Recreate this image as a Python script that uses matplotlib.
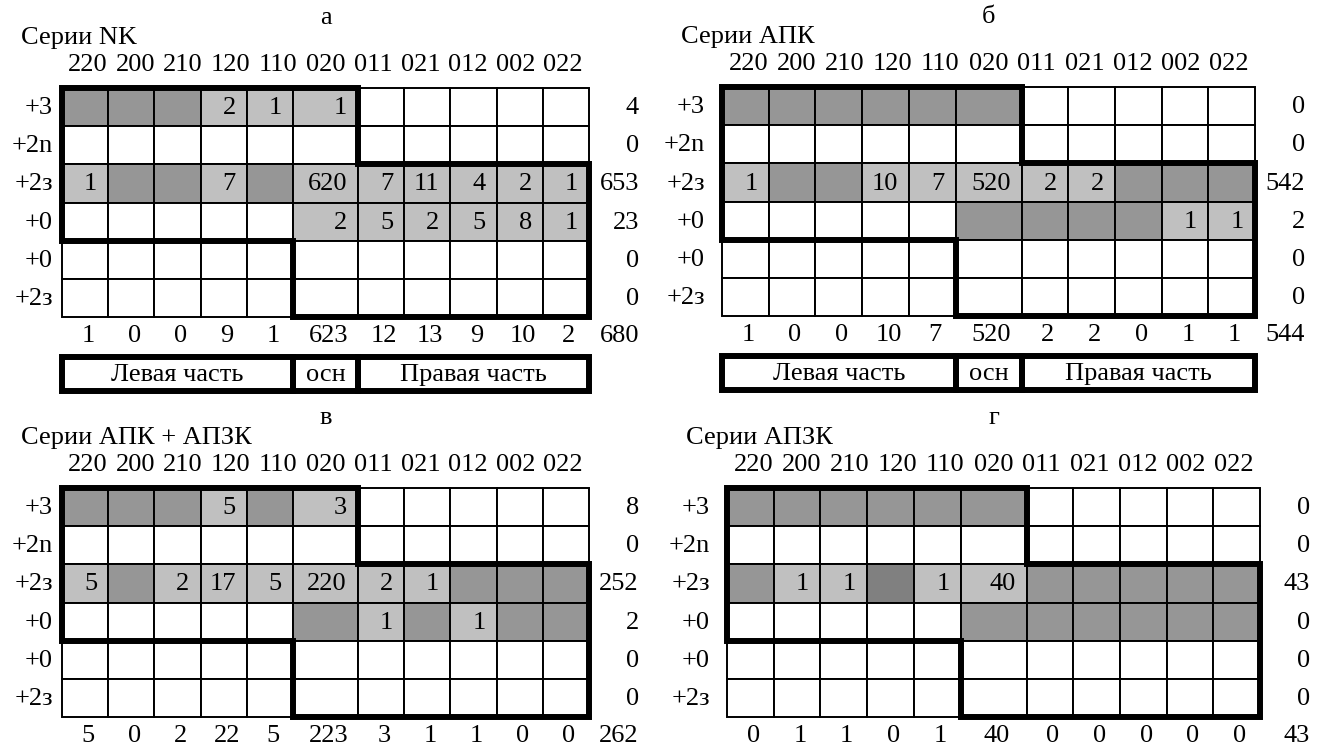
import matplotlib.pyplot as plt
from matplotlib.patches import Rectangle, Polygon

plt.rcParams['font.family'] = ['Liberation Serif', 'DejaVu Serif']

_ = None

columns = ['220', '200', '210', '120', '110', '020', '011', '021', '012', '002', '022']
row_labels = ['+3', '+2n', '+2з', '+0', '+0', '+2з']

# shade codes: 0 white, 1 light grey, 2 grey, 3 dark grey
nk_shades = ['22211100000', '00000000000', '12212111111',
             '00000111111', '00000000000', '00000000000']
nk_values = [[_, _, _, 2, 1, 1, _, _, _, _, _],
             [_] * 11,
             [1, _, _, 7, _, 620, 7, 11, 4, 2, 1],
             [_, _, _, _, _, 2, 5, 2, 5, 8, 1],
             [_] * 11,
             [_] * 11]
nk_row_sums = [4, 0, 653, 23, 0, 0]
nk_col_sums = [1, 0, 0, 9, 1, 623, 12, 13, 9, 10, 2]
nk_total = 680

apk_shades = ['22222200000', '00000000000', '12211111222',
              '00000222211', '00000000000', '00000000000']
apk_values = [[_] * 11,
              [_] * 11,
              [1, _, _, 10, 7, 520, 2, 2, _, _, _],
              [_, _, _, _, _, _, _, _, _, 1, 1],
              [_] * 11,
              [_] * 11]
apk_row_sums = [0, 0, 542, 2, 0, 0]
apk_col_sums = [1, 0, 0, 10, 7, 520, 2, 2, 0, 1, 1]
apk_total = 544

both_shades = ['22212100000', '00000000000', '12111111222',
               '00000212122', '00000000000', '00000000000']
both_values = [[_, _, _, 5, _, 3, _, _, _, _, _],
               [_] * 11,
               [5, _, 2, 17, 5, 220, 2, 1, _, _, _],
               [_, _, _, _, _, _, 1, _, 1, _, _],
               [_] * 11,
               [_] * 11]
both_row_sums = [8, 0, 252, 2, 0, 0]
both_col_sums = [5, 0, 2, 22, 5, 223, 3, 1, 1, 0, 0]
both_total = 262

apzk_shades = ['22222200000', '00000000000', '21131122222',
               '00000222222', '00000000000', '00000000000']
apzk_values = [[_] * 11,
               [_] * 11,
               [_, 1, 1, _, 1, 40, _, _, _, _, _],
               [_] * 11,
               [_] * 11,
               [_] * 11]
apzk_row_sums = [0, 0, 43, 0, 0, 0]
apzk_col_sums = [0, 1, 1, 0, 1, 40, 0, 0, 0, 0, 0]
apzk_total = 43

shade_colors = {'0': 'white', '1': '#c0c0c0', '2': '#969696', '3': '#808080'}
FS = 19
ROW_H = 38.2
THIN = 1.4
THICK = 4.3


def draw_panel(ax, left, top, std_w, wide_w, letter, title, shades, values,
               row_sums, col_sums, total, label_gap, box=False):
    edges = [left]
    for i in range(len(columns)):
        edges.append(edges[-1] + (wide_w if i == 5 else std_w))
    ys = [top + r * ROW_H for r in range(len(row_labels) + 1)]
    right, bottom = edges[-1], ys[-1]
    sums_x = right + 50

    # cells
    for r in range(len(row_labels)):
        for c in range(len(columns)):
            ax.add_patch(Rectangle((edges[c], ys[r]), edges[c + 1] - edges[c], ROW_H,
                                   facecolor=shade_colors[shades[r][c]],
                                   edgecolor='black', lw=THIN))
            v = values[r][c]
            if v is not None:
                ax.text(edges[c + 1] - 11, ys[r] + ROW_H / 2 + 1, str(v), fontsize=FS,
                        ha='right', va='center')
        ax.text(left - label_gap, ys[r] + ROW_H / 2 + 1, row_labels[r], fontsize=FS,
                ha='right', va='center')
        ax.text(sums_x, ys[r] + ROW_H / 2 + 1, str(row_sums[r]), fontsize=FS,
                ha='right', va='center')

    # thick outline of the zone
    pts = [(0, 0), (6, 0), (6, 2), (11, 2), (11, 6), (5, 6), (5, 4), (0, 4)]
    ax.add_patch(Polygon([(edges[c], ys[r]) for c, r in pts], closed=True, fill=False,
                         edgecolor='black', lw=THICK, joinstyle='miter'))

    centers = [(edges[c] + edges[c + 1]) / 2 for c in range(len(columns))]
    step = (centers[-1] - centers[0] - 6) / (len(columns) - 1)
    for i, name in enumerate(columns):
        ax.text(centers[0] + 3 + i * step, top - 23, name, fontsize=FS,
                ha='center', va='center')
        ax.text(centers[i] + 3, bottom + 19, str(col_sums[i]), fontsize=FS,
                ha='center', va='center')
    ax.text(sums_x, bottom + 19, str(total), fontsize=FS, ha='right', va='center')

    ax.text((left + right) / 2, top - 70, letter, fontsize=FS, ha='center', va='center')
    ax.text(left - 41, top - 50, title, fontsize=FS, ha='left', va='center')

    if box:
        b0, b1 = bottom + 40, bottom + 74
        parts = [(0, 5, 'Левая часть'), (5, 6, 'осн'), (6, 11, 'Правая часть')]
        for c0, c1, txt in parts:
            ax.add_patch(Rectangle((edges[c0], b0), edges[c1] - edges[c0], b1 - b0,
                                   fill=False, edgecolor='black', lw=THICK,
                                   joinstyle='miter'))
            ax.text((edges[c0] + edges[c1]) / 2, (b0 + b1) / 2 + 1, txt, fontsize=FS,
                    ha='center', va='center')


fig = plt.figure(figsize=(13.19, 7.49), dpi=100)
ax = fig.add_axes([0, 0, 1, 1])
ax.set_xlim(0, 1319)
ax.set_ylim(749, 0)
ax.axis('off')

draw_panel(ax, 62, 88, 46.2, 65, 'а', 'Серии NK', nk_shades, nk_values,
           nk_row_sums, nk_col_sums, nk_total, 9, box=True)
draw_panel(ax, 722, 87, 46.7, 66, 'б', 'Серии АПК', apk_shades, apk_values,
           apk_row_sums, apk_col_sums, apk_total, 17, box=True)
draw_panel(ax, 62, 488, 46.2, 65, 'в', 'Серии АПК + АПЗК', both_shades, both_values,
           both_row_sums, both_col_sums, both_total, 9)
draw_panel(ax, 727, 488, 46.7, 66, 'г', 'Серии АПЗК', apzk_shades, apzk_values,
           apzk_row_sums, apzk_col_sums, apzk_total, 17)

fig.savefig('out.png', dpi=100)
